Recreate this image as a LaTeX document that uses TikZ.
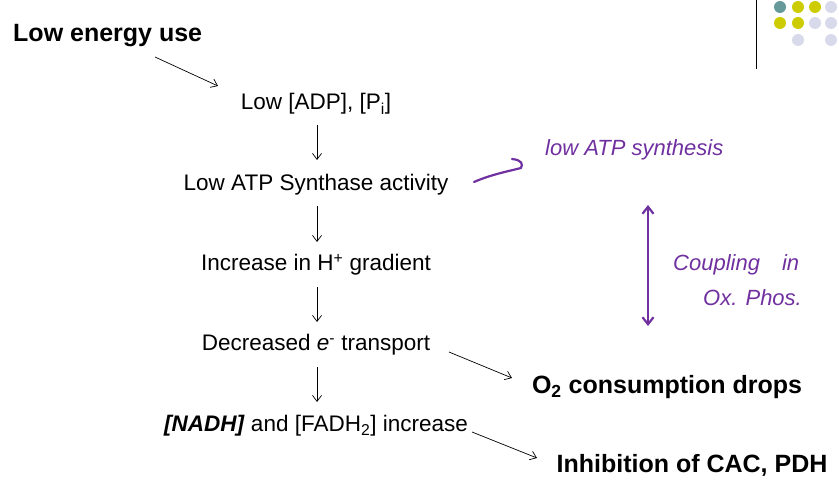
\documentclass[tikz,border=0pt]{standalone}
\usepackage{fontspec}
\usetikzlibrary{arrows.meta}
\setmainfont{Liberation Sans}
\begin{document}
\begin{tikzpicture}[x=1pt,y=-1pt,
  t/.style={font=\fontsize{22.5}{26}\selectfont, inner sep=0pt},
  tb/.style={font=\fontsize{25}{29}\selectfont\bfseries, inner sep=0pt},
  arr/.style={-{Straight Barb[length=6pt,width=9pt]}, line width=0.7pt},
  hw/.style={font=\fontsize{22}{26}\selectfont\itshape, text=handp, inner sep=0pt},
  dot/.style={circle, inner sep=0pt, minimum size=12pt}]
\definecolor{handp}{RGB}{112,48,160}
\definecolor{teal1}{RGB}{102,153,153}
\definecolor{yel}{RGB}{204,204,0}
\definecolor{lav}{RGB}{217,217,236}
\useasboundingbox (0,0) rectangle (839,484);
\node[tb, anchor=west] (a) at (13,36) {Low energy use};
\node[t] (b) at (316,104) {Low [ADP], [P\textsubscript{i}]};
\node[t] (c) at (316,185) {Low ATP Synthase activity};
\node[t] (d) at (316,265) {Increase in H\textsuperscript{+} gradient};
\node[t] (e) at (316,345) {Decreased \textit{e}\textsuperscript{-} transport};
\node[t] (f) at (316,426) {\textbf{\textit{[NADH]}} and [FADH\textsubscript{2}] increase};
\node[tb] (g) at (667,387) {O\textsubscript{2} consumption drops};
\node[tb] (h) at (692,465) {Inhibition of CAC, PDH};
\coordinate (a1) at (155,57); \coordinate (a2) at (218,86);
\draw[arr] (a1) -- (a2);
\draw[arr] (317,125) -- (317,160);
\draw[arr] (317,206) -- (317,242);
\draw[arr] (317,287) -- (317,322);
\draw[arr] (317,367) -- (317,402);
\draw[arr] (449,352) -- (512,378);
\draw[arr] (472,432) -- (537,458);
% decoration
\draw[line width=1pt] (756,0) -- (756,69);
\node[dot, fill=teal1] (d1) at (780,7) {};
\node[dot, fill=yel] (d2) at (798,7) {};
\node[dot, fill=yel] (d3) at (815,7) {};
\node[dot, fill=lav] (d4) at (831,7) {};
\node[dot, fill=yel] (d5) at (780,23) {};
\node[dot, fill=yel] (d6) at (798,23) {};
\node[dot, fill=lav] (d7) at (815,23) {};
\node[dot, fill=lav] (d8) at (831,23) {};
\node[dot, fill=lav] (d9) at (798,40) {};
\node[dot, fill=lav] (d10) at (831,40) {};
% handwriting
\draw[handp, line width=2.2pt, line cap=round, line join=round] (474,182) .. controls (490,175) and (505,172) .. (521,168) .. controls (523,164) and (522,160) .. (512,159);
\node[hw, anchor=west] (hw1) at (545,150) {low ATP synthesis};
\draw[handp, line width=2.2pt, <->, >={Straight Barb[length=7pt,width=11pt]}] (648,205) -- (648,326);
\node[hw, anchor=west] (hw2) at (673,265) {Coupling\quad in};
\node[hw, anchor=west] (hw3) at (703,298) {Ox. Phos.};
\end{tikzpicture}
\end{document}
